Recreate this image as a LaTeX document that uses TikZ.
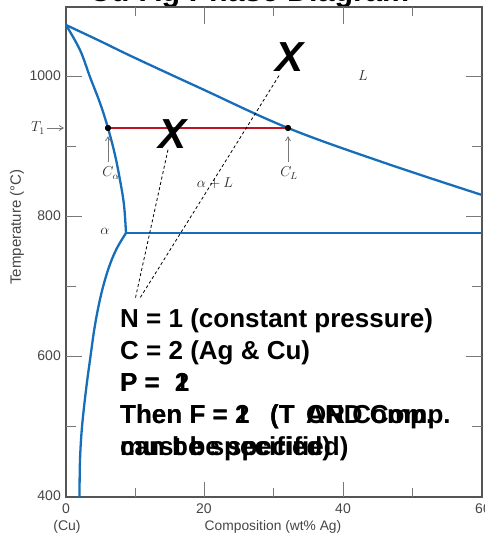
\documentclass[tikz,border=0pt]{standalone}
\usepackage{fontspec}
\setmainfont{Liberation Sans}
\usetikzlibrary{arrows.meta}
\definecolor{pblue}{RGB}{22,110,186}
\definecolor{pred}{RGB}{190,20,35}
\definecolor{frame}{RGB}{85,85,85}
\definecolor{tickc}{RGB}{120,120,120}
\definecolor{numc}{RGB}{70,70,70}
\definecolor{labc}{RGB}{40,40,40}
\tikzset{
  curve/.style={draw=pblue,line width=2.3pt,line join=round},
  tieline/.style={draw=pred,line width=2.6pt},
  tick/.style={draw=tickc,line width=1pt},
  num/.style={inner sep=0pt,text=numc,font=\fontsize{14pt}{14pt}\selectfont},
  lab/.style={inner sep=0pt,text=labc,font=\fontsize{14pt}{14pt}\selectfont},
  body/.style={inner sep=0pt,anchor=base west,font=\bfseries\fontsize{26pt}{26pt}\selectfont},
  bigx/.style={inner sep=0pt,font=\bfseries\itshape\fontsize{42pt}{42pt}\selectfont},
  guide/.style={draw=black,line width=0.8pt,dash pattern=on 3pt off 2.5pt},
  pointer/.style={draw=tickc,line width=0.8pt,-{Straight Barb[length=4pt,width=5pt]}},
  dot/.style={circle,fill=black,inner sep=0pt,minimum size=6pt}
}
\begin{document}
\begin{tikzpicture}[x=1pt,y=-1pt]
\useasboundingbox (0,0) rectangle (485,536);
% title (cut off at top)
\node[inner sep=0pt,anchor=base,font=\bfseries\fontsize{30.5pt}{30.5pt}\selectfont] (title) at (249,1.5) {Cu-Ag Phase Diagram};
% frame
\draw[draw=frame,line width=1.3pt] (66,7) rectangle (482,497);
% ticks left/right
\foreach \y in {76,216,356} {
  \draw[tick] (66,\y) -- (82,\y);
  \draw[tick] (482,\y) -- (466,\y);
}
\foreach \y in {146,286,426} {
  \draw[tick] (66,\y) -- (76,\y);
  \draw[tick] (482,\y) -- (472,\y);
}
\foreach \x in {204,343} {
  \draw[tick] (\x,7) -- (\x,24);
  \draw[tick] (\x,497) -- (\x,482);
}
\foreach \x in {135,273,412} {
  \draw[tick] (\x,7) -- (\x,16);
  \draw[tick] (\x,497) -- (\x,488);
}
% tick labels
\node[num,anchor=east] (y1000) at (61,76) {1000};
\node[num,anchor=east] (y800) at (61,216) {800};
\node[num,anchor=east] (y600) at (61,356) {600};
\node[num,anchor=east] (y400) at (61,496) {400};
\node[num] (x0) at (66,509) {0};
\node[num] (x20) at (204,509) {20};
\node[num] (x40) at (343,509) {40};
\node[num] (x60) at (483,509) {60};
\node[num] (cu) at (67,527) {(Cu)};
\node[num,font=\fontsize{13.8pt}{13.8pt}\selectfont] (xlab) at (273,527) {Composition (wt\% Ag)};
\node[num,rotate=90,font=\fontsize{15pt}{15pt}\selectfont] (ylab) at (17,227) {Temperature (°C)};
% phase boundaries
\draw[curve] plot[smooth,tension=0.6] coordinates {(66,25) (100,41) (133,57) (200,88) (288,128) (385,163) (482,195)};
\draw[curve] plot[smooth,tension=0.6] coordinates {(66,25) (80,50) (90,77) (100,103) (108,128) (115,155) (120,180) (124,205) (126,233)};
\draw[curve] plot[smooth,tension=0.6] coordinates {(126,233) (116,250) (108,270) (101,295) (95,325) (90,360) (86,390) (82,427) (80,460) (79.5,497)};
\draw[curve] (126,233) -- (482,233);
% tie line
\node[dot] (ca) at (108,128) {};
\node[dot] (cl) at (288,128) {};
\draw[tieline] (ca) -- (cl);
\node[dot] at (108,128) {};
\node[dot] at (288,128) {};
% labels
\node[lab] (T1) at (38,128) {$T_1$};
\coordinate (T1tip) at (64,128);
\draw[pointer] (T1.east) ++(1.5,0) -- (T1tip);
\node[lab] (Calab) at (111,173) {$C_\alpha$};
\node[lab] (CLlab) at (289,173) {$C_L$};
\draw[pointer,shorten >=5pt] (108,162) -- (ca);
\draw[pointer,shorten >=5pt] (288,162) -- (cl);
\node[lab] (Lr) at (363,76) {$L$};
\node[lab] (aL) at (215,183) {$\alpha + L$};
\node[lab] (al) at (105,231) {$\alpha$};
% X marks and dashed guides
\node[bigx] (X1) at (290,57) {X};
\node[bigx] (X2) at (173,134) {X};
\coordinate (e1) at (140,298);
\coordinate (e2) at (135,300);
\draw[guide] (X1.south) ++(-11,4) -- (e1);
\draw[guide] (X2.south) ++(-5,1) -- (e2);
% overlaid text block
\node[body] (n1) at (120,327) {N = 1 (constant pressure)};
\node[body] (c1) at (120,359) {C = 2 (Ag \& Cu)};
\node[body] (p1) at (120,391) {P =\hspace{15pt}1};
\node[body] (p2) at (120,391) {P =\hspace{15pt}2};
\node[body] (f1) at (120,423) {Then F = 2\hspace{20.7pt}(T\hspace{11.5pt}AND Comp.};
\node[body] (f2) at (120,423) {Then F = 1\hspace{20.7pt}(T\hspace{11.5pt}OR Comp.};
\node[body] (s1) at (120,455) {can be specified)};
\node[body] (s2) at (120,455) {must be specified)};
\end{tikzpicture}
\end{document}
